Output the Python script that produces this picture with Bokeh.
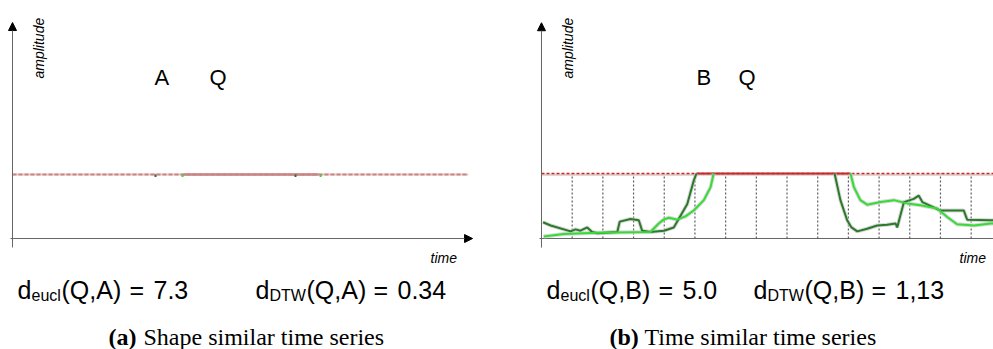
import math
from bokeh.plotting import figure
from bokeh.models import Range1d, Arrow, NormalHead, Label
from bokeh.layouts import row
from bokeh.embed import file_html
from bokeh.resources import INLINE

# ---------------- data ----------------
# grid of time steps (dotted vertical lines, panel b)
time_grid = [1, 2, 3, 4, 5, 6, 7, 8, 9, 10, 11, 12, 13, 14]
clip_level = 1.0                      # amplitude where the plot is clipped (red line)

# panel (a): only crossing marks of A and Q remain visible at the clip level
a_cross_t = [4.66, 9.22]
q_cross_t = [5.54, 10.04]
a_solid_span = [5.57, 9.97]           # solid part of the red line in panel (a)

# panel (b): series B (dark green) – two visible parts
b1_t = [0.05, 0.3, 0.95, 1.11, 1.27, 1.49, 1.65, 1.82, 2.47, 2.55, 2.9, 3.17, 3.28, 3.55, 3.99, 4.31, 4.47, 4.75, 4.96, 5.05]
b1_a = [0.25, 0.2, 0.11, 0.14, 0.12, 0.17, 0.10, 0.08, 0.10, 0.26, 0.30, 0.28, 0.12, 0.10, 0.12, 0.17, 0.30, 0.53, 0.89, 1.0]
b2_t = [9.55, 9.74, 9.96, 10.1, 10.29, 10.61, 10.94, 11.26, 11.54, 11.59, 11.81, 12.13, 12.29, 12.41, 12.78, 13.0, 13.76, 13.87, 14.63, 14.73]
b2_a = [1.0, 0.59, 0.28, 0.17, 0.11, 0.15, 0.20, 0.21, 0.23, 0.17, 0.56, 0.61, 0.66, 0.56, 0.48, 0.43, 0.43, 0.29, 0.28, 0.28]
# series Q (light green) – two visible parts
q1_t = [0.07, 0.73, 1.82, 3.55, 3.82, 3.98, 4.15, 4.42, 4.69, 4.96, 5.29, 5.51, 5.61]
q1_a = [0.03, 0.07, 0.09, 0.10, 0.23, 0.29, 0.32, 0.29, 0.34, 0.43, 0.59, 0.79, 1.0]
q2_t = [10.07, 10.18, 10.39, 10.61, 11.05, 11.48, 11.92, 12.35, 12.89, 13.22, 13.54, 14.09, 14.63, 14.73]
q2_a = [1.0, 0.79, 0.59, 0.52, 0.56, 0.59, 0.54, 0.51, 0.46, 0.33, 0.22, 0.20, 0.23, 0.23]
b_solid_span = [5.05, 10.07]          # solid part of red line in panel (b)

series_names_a = ["A", "Q"]
series_names_b = ["B", "Q"]
dist_a = ["7.3", "0.34"]
dist_b = ["5.0", "1,13"]
captions_tag = ["(a)", "(b)"]
captions_text = ["Shape similar time series", "Time similar time series"]

SANS = "Liberation Sans"
SERIF = "Liberation Serif"
H = 349


def base_fig(w, xr, yr):
    p = figure(width=w, height=H, x_range=Range1d(*xr), y_range=Range1d(*yr),
               output_backend="svg", toolbar_location=None, min_border=0,
               x_axis_location=None, y_axis_location=None, tools="")
    p.grid.visible = False
    p.outline_line_color = None
    p.background_fill_color = "white"
    p.border_fill_color = "white"
    return p


def lab(p, x, y, text, size, font=SANS, style="normal", angle=0.0, align="left", color="black"):
    p.add_layout(Label(x=x, y=y, x_units="screen", y_units="screen", text=text,
                       text_font=font, text_font_size=f"{size}px", text_font_style=style,
                       angle=angle, text_align=align, text_baseline="alphabetic",
                       text_color=color))


def axes(p, x0, x1, ytop, x_head=True):
    head = lambda: NormalHead(size=8, fill_color="black", line_color="black", line_width=1)
    p.add_layout(Arrow(end=head(), x_start=0, y_start=-0.14, x_end=0, y_end=ytop,
                       line_color="#666666", line_width=1))
    if x_head:
        p.add_layout(Arrow(end=head(), x_start=x0, y_start=0, x_end=x1, y_end=0,
                           line_color="#666666", line_width=1))
    else:
        p.segment(x0=[x0], y0=[0], x1=[x1], y1=[0], line_color="#666666", line_width=1)


def formula(p, xs, sub, pair, val):
    base_y = H - 289
    sub_y = H - 295
    lab(p, xs[0], base_y, "d", 25)
    lab(p, xs[1], sub_y, sub, 16)
    lab(p, xs[2], base_y, pair, 25)
    lab(p, xs[3], base_y, "=", 25)
    lab(p, xs[4], base_y, val, 25)


# ---------------- panel (a) ----------------
pa = base_fig(496, (-0.391, 15.77), (-1.734, 3.719))
axes(pa, -0.065, 14.99, 3.375)
pa.line([0, 14.85], [clip_level, clip_level], line_color="#e8c4c4", line_width=2)
pa.line([0, 14.85], [clip_level, clip_level], line_color="#c98686", line_width=2, line_dash="4 2")
pa.line(a_solid_span, [clip_level, clip_level], line_color="#c98686", line_width=2.5)
pa.segment(x0=a_cross_t, y0=[clip_level] * 2, x1=a_cross_t, y1=[clip_level - 0.04] * 2,
           line_color="#2a6e2a", line_width=2)
pa.segment(x0=q_cross_t, y0=[clip_level] * 2, x1=q_cross_t, y1=[clip_level - 0.04] * 2,
           line_color="#3ad63a", line_width=2)

lab(pa, 38, H - 78, "amplitude", 14, style="italic", angle=math.pi / 2)
lab(pa, 430, H - 257, "time", 14, style="italic")
lab(pa, 154, H - 77, series_names_a[0], 22)
lab(pa, 209, H - 77, series_names_a[1], 22)
formula(pa, [17, 31, 61, 129, 153], "eucl", "(Q,A)", dist_a[0])
formula(pa, [255, 269, 306, 373, 397], "DTW", "(Q,A)", dist_a[1])
lab(pa, 108, H - 336, captions_tag[0], 24, font=SERIF, style="bold")
lab(pa, 143, H - 336, captions_text[0], 24, font=SERIF)

# ---------------- panel (b) ----------------
pb = base_fig(497, (-1.466, 14.728), (-1.708, 3.662))
axes(pb, -0.065, 15.0, 3.32, x_head=False)
pb.segment(x0=time_grid, y0=[0] * len(time_grid), x1=time_grid, y1=[clip_level] * len(time_grid),
           line_color="#5e5e5e", line_width=1.2, line_dash="2 2")
pb.line([0, 14.75], [clip_level - 0.02, clip_level - 0.02], line_color="#e0c8c8", line_width=2)
pb.line([0, 14.75], [clip_level, clip_level], line_color="#c42a2a", line_width=1.5, line_dash="3 2")
pb.line(b_solid_span, [clip_level, clip_level], line_color="#c42a2a", line_width=2)

for t, a in ((b1_t, b1_a), (b2_t, b2_a), (q1_t, q1_a), (q2_t, q2_a)):
    pb.line(t, a, line_color="#c8c8c8", line_width=4, line_alpha=0.7)
pb.line(b1_t, b1_a, line_color="#2a7a2a", line_width=2)
pb.line(b2_t, b2_a, line_color="#2a7a2a", line_width=2)
pb.line(q1_t, q1_a, line_color="#33dd33", line_width=2)
pb.line(q2_t, q2_a, line_color="#33dd33", line_width=2)

lab(pb, 71, H - 78, "amplitude", 14, style="italic", angle=math.pi / 2)
lab(pb, 463, H - 257, "time", 14, style="italic")
lab(pb, 200, H - 77, series_names_b[0], 22)
lab(pb, 242, H - 77, series_names_b[1], 22)
formula(pb, [50, 64, 94, 162, 186], "eucl", "(Q,B)", dist_b[0])
formula(pb, [257, 271, 308, 375, 399], "DTW", "(Q,B)", dist_b[1])
lab(pb, 113, H - 336, captions_tag[1], 24, font=SERIF, style="bold")
lab(pb, 148, H - 336, captions_text[1], 24, font=SERIF)

layout = row(pa, pb, spacing=0)
open("out.html", "w").write(file_html(layout, INLINE))
